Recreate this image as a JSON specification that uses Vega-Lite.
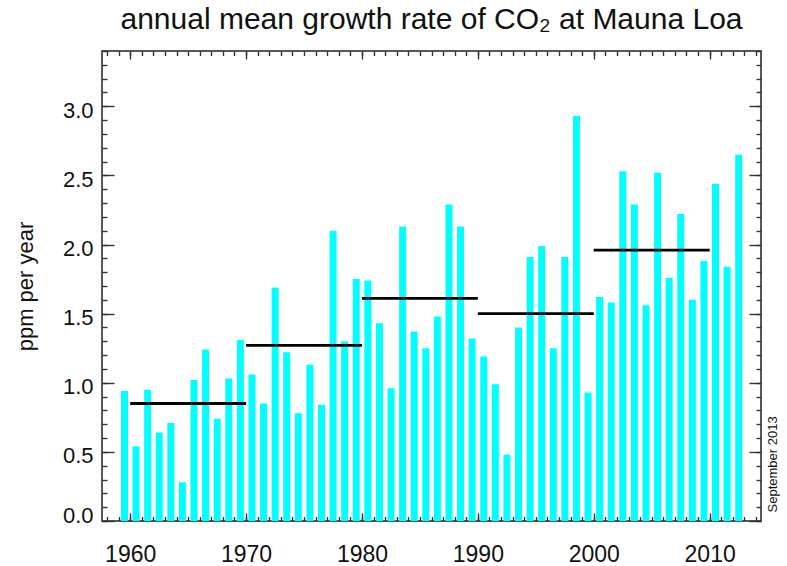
{
  "$schema": "https://vega.github.io/schema/vega-lite/v6.json",
  "width": 659,
  "height": 470,
  "autosize": {"type": "none"},
  "padding": {"left": 102, "top": 51, "right": 26, "bottom": 45},
  "background": "white",
  "title": {
    "text": "annual mean growth rate of CO₂ at Mauna Loa",
    "font": "Liberation Sans",
    "fontSize": 30,
    "fontWeight": "normal",
    "color": "#111111",
    "anchor": "middle",
    "baseline": "alphabetic",
    "offset": -9
  },
  "config": {
    "view": {"stroke": "#222222", "strokeWidth": 1.5},
    "axis": {
      "grid": false,
      "domain": false,
      "labelFont": "Liberation Sans",
      "titleFont": "Liberation Sans",
      "titleFontWeight": "normal",
      "labelColor": "#111111",
      "titleColor": "#111111",
      "tickColor": "#333333",
      "tickWidth": 1.4,
      "labelFlush": false,
      "labelOverlap": false
    }
  },
  "datasets": {
    "growth": [
      {"year": 1959, "rate": 0.94}, {"year": 1960, "rate": 0.54}, {"year": 1961, "rate": 0.95},
      {"year": 1962, "rate": 0.64}, {"year": 1963, "rate": 0.71}, {"year": 1964, "rate": 0.28},
      {"year": 1965, "rate": 1.02}, {"year": 1966, "rate": 1.24}, {"year": 1967, "rate": 0.74},
      {"year": 1968, "rate": 1.03}, {"year": 1969, "rate": 1.31}, {"year": 1970, "rate": 1.06},
      {"year": 1971, "rate": 0.85}, {"year": 1972, "rate": 1.69}, {"year": 1973, "rate": 1.22},
      {"year": 1974, "rate": 0.78}, {"year": 1975, "rate": 1.13}, {"year": 1976, "rate": 0.84},
      {"year": 1977, "rate": 2.10}, {"year": 1978, "rate": 1.30}, {"year": 1979, "rate": 1.75},
      {"year": 1980, "rate": 1.74}, {"year": 1981, "rate": 1.43}, {"year": 1982, "rate": 0.96},
      {"year": 1983, "rate": 2.13}, {"year": 1984, "rate": 1.37}, {"year": 1985, "rate": 1.25},
      {"year": 1986, "rate": 1.48}, {"year": 1987, "rate": 2.29}, {"year": 1988, "rate": 2.13},
      {"year": 1989, "rate": 1.32}, {"year": 1990, "rate": 1.19}, {"year": 1991, "rate": 0.99},
      {"year": 1992, "rate": 0.48}, {"year": 1993, "rate": 1.40}, {"year": 1994, "rate": 1.91},
      {"year": 1995, "rate": 1.99}, {"year": 1996, "rate": 1.25}, {"year": 1997, "rate": 1.91},
      {"year": 1998, "rate": 2.93}, {"year": 1999, "rate": 0.93}, {"year": 2000, "rate": 1.62},
      {"year": 2001, "rate": 1.58}, {"year": 2002, "rate": 2.53}, {"year": 2003, "rate": 2.29},
      {"year": 2004, "rate": 1.56}, {"year": 2005, "rate": 2.52}, {"year": 2006, "rate": 1.76},
      {"year": 2007, "rate": 2.22}, {"year": 2008, "rate": 1.60}, {"year": 2009, "rate": 1.88},
      {"year": 2010, "rate": 2.44}, {"year": 2011, "rate": 1.84}, {"year": 2012, "rate": 2.65}
    ],
    "decades": [
      {"start": 1960, "end": 1970, "mean": 0.85},
      {"start": 1970, "end": 1980, "mean": 1.27},
      {"start": 1980, "end": 1990, "mean": 1.61},
      {"start": 1990, "end": 2000, "mean": 1.50},
      {"start": 2000, "end": 2010, "mean": 1.96}
    ]
  },
  "resolve": {
    "scale": {"x": "shared", "y": "shared"},
    "axis": {"x": "independent", "y": "independent"}
  },
  "layer": [
    {
      "data": {"name": "growth"},
      "mark": {"type": "bar", "color": "#00FFFF", "width": 7, "xOffset": 5.88},
      "encoding": {
        "x": {
          "field": "year",
          "type": "quantitative",
          "scale": {"domain": [1958, 2014], "nice": false, "zero": false},
          "axis": {
            "orient": "bottom",
            "values": [1960, 1970, 1980, 1990, 2000, 2010],
            "format": "d",
            "ticks": false,
            "labelFontSize": 23,
            "labelBaseline": "alphabetic",
            "labelPadding": 40,
            "title": null
          }
        },
        "y": {
          "field": "rate",
          "type": "quantitative",
          "scale": {"domain": [0, 3.4], "nice": false, "zero": true},
          "axis": {
            "orient": "left",
            "values": [0.5, 1, 1.5, 2, 2.5, 3],
            "format": ".1f",
            "ticks": false,
            "labelFontSize": 22,
            "labelBaseline": "alphabetic",
            "labelPadding": 9,
            "labelOffset": 11,
            "title": "ppm per year",
            "titleFontSize": 22,
            "titleAngle": 270,
            "titleBaseline": "alphabetic",
            "titleAlign": "center",
            "titleX": -70,
            "titleY": 235
          }
        }
      }
    },
    {
      "data": {"name": "decades"},
      "mark": {"type": "rule", "color": "#000000", "strokeWidth": 2.8},
      "encoding": {
        "x": {
          "field": "start",
          "type": "quantitative",
          "axis": {"orient": "bottom", "values": [1960, 1970, 1980, 1990, 2000, 2010], "labels": false, "tickSize": -8, "title": null}
        },
        "x2": {"field": "end"},
        "y": {
          "field": "mean",
          "type": "quantitative",
          "axis": {"orient": "left", "values": [0, 0.5, 1, 1.5, 2, 2.5, 3], "labels": false, "tickSize": -12, "title": null}
        }
      }
    },
    {
      "data": {"name": "growth"},
      "mark": {"type": "point", "opacity": 0},
      "encoding": {
        "x": {
          "field": "year",
          "type": "quantitative",
          "axis": {"orient": "bottom", "values": [1958,1959,1960,1961,1962,1963,1964,1965,1966,1967,1968,1969,1970,1971,1972,1973,1974,1975,1976,1977,1978,1979,1980,1981,1982,1983,1984,1985,1986,1987,1988,1989,1990,1991,1992,1993,1994,1995,1996,1997,1998,1999,2000,2001,2002,2003,2004,2005,2006,2007,2008,2009,2010,2011,2012,2013,2014], "labels": false, "tickSize": -4.5, "title": null}
        },
        "y": {
          "field": "rate",
          "type": "quantitative",
          "axis": {"orient": "left", "values": [0,0.1,0.2,0.3,0.4,0.5,0.6,0.7,0.8,0.9,1,1.1,1.2,1.3,1.4,1.5,1.6,1.7,1.8,1.9,2,2.1,2.2,2.3,2.4,2.5,2.6,2.7,2.8,2.9,3,3.1,3.2,3.3,3.4], "labels": false, "tickSize": -5, "title": null}
        }
      }
    },
    {
      "data": {"name": "growth"},
      "mark": {"type": "point", "opacity": 0},
      "encoding": {
        "x": {
          "field": "year",
          "type": "quantitative",
          "axis": {"orient": "top", "values": [1960, 1970, 1980, 1990, 2000, 2010], "labels": false, "tickSize": -8, "title": null}
        },
        "y": {
          "field": "rate",
          "type": "quantitative",
          "axis": {"orient": "right", "values": [0, 0.5, 1, 1.5, 2, 2.5, 3], "labels": false, "tickSize": -12, "title": null}
        }
      }
    },
    {
      "data": {"name": "growth"},
      "mark": {"type": "point", "opacity": 0},
      "encoding": {
        "x": {
          "field": "year",
          "type": "quantitative",
          "axis": {"orient": "top", "values": [1958,1959,1960,1961,1962,1963,1964,1965,1966,1967,1968,1969,1970,1971,1972,1973,1974,1975,1976,1977,1978,1979,1980,1981,1982,1983,1984,1985,1986,1987,1988,1989,1990,1991,1992,1993,1994,1995,1996,1997,1998,1999,2000,2001,2002,2003,2004,2005,2006,2007,2008,2009,2010,2011,2012,2013,2014], "labels": false, "tickSize": -4.5, "title": null}
        },
        "y": {
          "field": "rate",
          "type": "quantitative",
          "axis": {
            "orient": "right",
            "values": [0,0.1,0.2,0.3,0.4,0.5,0.6,0.7,0.8,0.9,1,1.1,1.2,1.3,1.4,1.5,1.6,1.7,1.8,1.9,2,2.1,2.2,2.3,2.4,2.5,2.6,2.7,2.8,2.9,3,3.1,3.2,3.3,3.4],
            "labels": false,
            "tickSize": -5,
            "title": "September 2013",
            "titleFontSize": 13,
            "titleAngle": 270,
            "titleBaseline": "alphabetic",
            "titleAlign": "left",
            "titleX": 15.5,
            "titleY": 461
          }
        }
      }
    },
    {
      "data": {"name": "growth"},
      "mark": {"type": "point", "opacity": 0},
      "encoding": {
        "x": {"field": "year", "type": "quantitative", "axis": null},
        "y": {
          "field": "rate",
          "type": "quantitative",
          "axis": {
            "orient": "left",
            "values": [0],
            "format": ".1f",
            "ticks": false,
            "labelFontSize": 22,
            "labelBaseline": "alphabetic",
            "labelPadding": 9,
            "labelOffset": 1,
            "title": null
          }
        }
      }
    }
  ]
}
